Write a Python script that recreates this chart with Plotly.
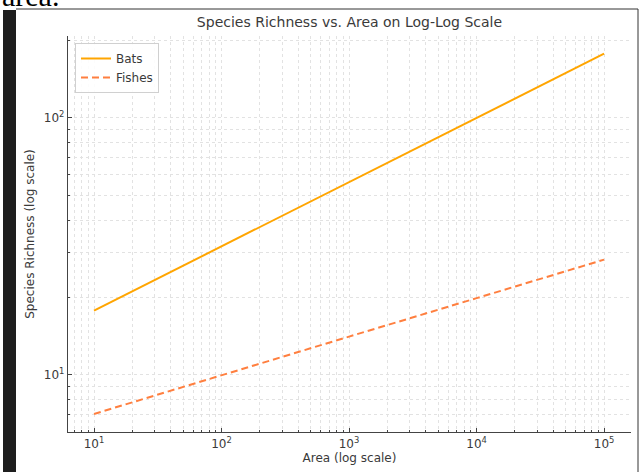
import plotly.graph_objects as go

# Data (log-log straight lines)
area = [10, 100, 1000, 10000, 100000]
bats = [17.8, 31.6, 56.2, 100.0, 178.0]
fishes = [7.05, 10.0, 14.1, 19.9, 28.1]

tick_vals = [10, 100, 1000, 10000, 100000]
x_tick_text = ["10<sup>1</sup>", "10<sup>2</sup>", "10<sup>3</sup>", "10<sup>4</sup>", "10<sup>5</sup>"]
y_tick_vals = [10, 100]
y_tick_text = ["10<sup>1</sup>", "10<sup>2</sup>"]

minor_vals = [m * 10 ** k for k in range(0, 6) for m in range(2, 10)]

W, H = 640, 472
ML, MR, MT, MB = 68, 9, 36, 40
PW, PH = W - ML - MR, H - MT - MB


def px(x):
    return (x - ML) / PW


def py(y):
    return (H - MB - y) / PH


FONT = "DejaVu Sans"
TXT = "#3a3a3a"
GRID = "#e2e2e2"

fig = go.Figure()
fig.add_trace(go.Scatter(x=area, y=bats, mode="lines", name="Bats",
                         line=dict(color="#FFA500", width=2)))
fig.add_trace(go.Scatter(x=area, y=fishes, mode="lines", name="Fishes",
                         line=dict(color="#FF7F3F", width=2, dash="7px,4px")))

axis_common = dict(
    type="log", showline=True, linecolor="#444", linewidth=1.3,
    ticks="inside", ticklen=4, tickcolor="#444", tickwidth=1,
    showgrid=True, gridcolor=GRID, griddash="dot", gridwidth=1,
    tickfont=dict(family=FONT, size=12, color=TXT),
    zeroline=False, mirror=False,
    minor=dict(tickmode="array", tickvals=minor_vals, ticks="inside", ticklen=2,
               tickcolor="#444", showgrid=True, gridcolor=GRID, griddash="dot",
               gridwidth=1),
)

fig.update_xaxes(**axis_common, range=[0.796, 5.211], tickmode="array",
                 tickvals=tick_vals, ticktext=x_tick_text,
                 title=dict(text="Area (log scale)", standoff=4,
                            font=dict(family=FONT, size=12, color=TXT)))
fig.update_yaxes(**axis_common, range=[0.778, 2.319], tickmode="array",
                 tickvals=y_tick_vals, ticktext=y_tick_text,
                 title=dict(text="Species Richness (log scale)", standoff=6,
                            font=dict(family=FONT, size=12, color=TXT)))

fig.update_layout(
    width=W, height=H,
    margin=dict(l=ML, r=MR, t=MT, b=MB, autoexpand=False),
    paper_bgcolor="white", plot_bgcolor="white",
    font=dict(family=FONT, size=12, color=TXT),
    title=dict(text="Species Richness vs. Area on Log-Log Scale",
               x=0.5, xref="paper", xanchor="center",
               y=1 - 22 / H, yanchor="middle",
               font=dict(family=FONT, size=14, color=TXT)),
    showlegend=True,
    legend=dict(x=px(75), y=py(43), xanchor="left", yanchor="top",
                bgcolor="rgba(255,255,255,0.9)", bordercolor="#d0d0d0",
                borderwidth=1, font=dict(family=FONT, size=12, color=TXT),
                itemwidth=30, tracegroupgap=0),
    shapes=[
        dict(type="rect", xref="paper", yref="paper",
             x0=px(3), x1=px(16), y0=py(H + 5), y1=py(10),
             fillcolor="#1e1e1e", line=dict(width=0), layer="above"),
        dict(type="line", xref="paper", yref="paper",
             x0=px(16), x1=px(638), y0=py(9), y1=py(9),
             line=dict(color="#333", width=1)),
        dict(type="line", xref="paper", yref="paper",
             x0=px(638), x1=px(638), y0=py(9), y1=py(H + 5),
             line=dict(color="#333", width=1)),
    ],
    annotations=[
        dict(text="area.", xref="paper", yref="paper", x=px(0), y=py(14),
             xanchor="left", yanchor="bottom", showarrow=False,
             font=dict(family="Liberation Serif", size=30, color="black")),
    ],
)

fig.write_html("out.html", config={"displayModeBar": False},
               post_script="document.body.style.margin='0';document.body.style.overflow='hidden';")
